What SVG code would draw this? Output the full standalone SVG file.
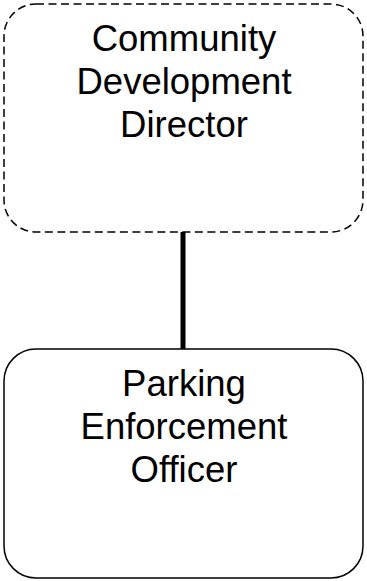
<svg xmlns="http://www.w3.org/2000/svg" width="367" height="581" viewBox="0 0 367 581">
  <style>
    .box { fill: #ffffff; stroke: #000000; stroke-width: 1.5; }
    .dashed { stroke-dasharray: 8 4.5; }
    .label { font-family: "Liberation Sans", Arial, sans-serif; font-size: 36.5px; fill: #000000; text-anchor: middle; }
    .link { stroke: #000000; stroke-width: 5; fill: none; }
  </style>
  <rect width="367" height="581" fill="#ffffff"/>
  <g id="connectors">
    <line class="link" x1="183" y1="232" x2="183" y2="349"/>
  </g>
  <g id="director">
    <rect class="box dashed" x="4" y="4" width="359" height="228" rx="32" ry="32"/>
    <text class="label" x="184" y="51">Community</text>
    <text class="label" x="184" y="94">Development</text>
    <text class="label" x="184" y="137">Director</text>
  </g>
  <g id="officer">
    <rect class="box" x="4" y="349" width="359" height="229" rx="32" ry="32"/>
    <text class="label" x="184" y="396">Parking</text>
    <text class="label" x="184" y="439">Enforcement</text>
    <text class="label" x="184" y="482">Officer</text>
  </g>
</svg>
